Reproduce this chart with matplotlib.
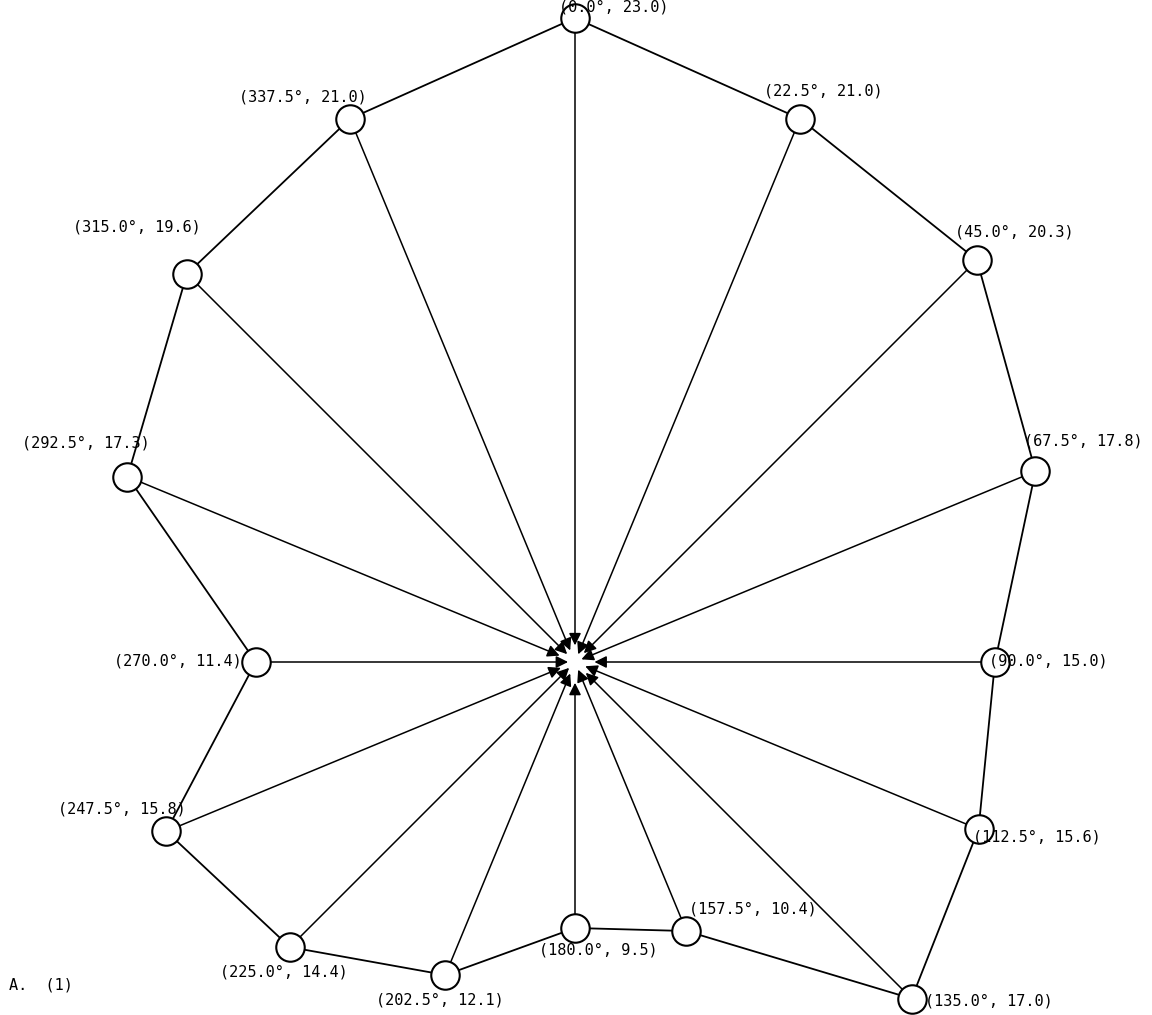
import numpy as np
import matplotlib
matplotlib.use("Agg")
import matplotlib.pyplot as plt

# Compass bearings (degrees, clockwise from north) and magnitudes
bearings = [0.0, 22.5, 45.0, 67.5, 90.0, 112.5, 135.0, 157.5,
            180.0, 202.5, 225.0, 247.5, 270.0, 292.5, 315.0, 337.5]
magnitudes = [23.0, 21.0, 20.3, 17.8, 15.0, 15.6, 17.0, 10.4,
              9.5, 12.1, 14.4, 15.8, 11.4, 17.3, 19.6, 21.0]

# label offsets in points (dx, dy) and horizontal alignment per point
label_offsets = [(28, 8, "center"), (-26, 20, "left"), (-16, 20, "left"),
                 (-8, 22, "left"), (-4, 1, "left"), (-4, -6, "left"),
                 (10, -2, "left"), (2, 16, "left"),
                 (-26, -16, "left"), (-4, -18, "center"), (-4, -18, "center"),
                 (14, 16, "right"), (-10, 1, "right"), (-30, 24, "center"),
                 (10, 34, "right"), (12, 16, "right")]

# arrowhead stand-off from the origin (points)
head_gap = [12, 6, 9, 5, 14, 8, 11, 6, 15, 9, 6, 11, 5, 12, 8, 9]

theta = np.deg2rad(bearings)
r = np.array(magnitudes)
x = r * np.sin(theta)
y = r * np.cos(theta)

fig = plt.figure(figsize=(11.52, 10.15), dpi=100)
ax = fig.add_axes([0, 0, 1, 1])
scale = 28.0  # pixels per unit
cx, cy = 575, 662
ax.set_xlim(-cx / scale, (1152 - cx) / scale)
ax.set_ylim(-(1015 - cy) / scale, cy / scale)
ax.set_aspect("equal")
ax.axis("off")

# outline polygon connecting neighbouring bearings
ax.plot(np.append(x, x[0]), np.append(y, y[0]), color="black", lw=1.3, zorder=2)

# spokes with arrowheads pointing at the origin
for xi, yi, g in zip(x, y, head_gap):
    ax.annotate("", xy=(0, 0), xytext=(xi, yi),
                arrowprops=dict(arrowstyle="-|>", color="black", lw=1.1,
                                mutation_scale=18, shrinkA=0, shrinkB=g),
                zorder=3)

# open circle markers at each point
ax.scatter(x, y, s=420, facecolors="white", edgecolors="black", linewidths=1.5, zorder=4)

for xi, yi, b, m, (dx, dy, ha) in zip(x, y, bearings, magnitudes, label_offsets):
    ax.annotate(f"({b:.1f}°, {m:.1f})", xy=(xi, yi), xytext=(dx, dy),
                textcoords="offset points", ha=ha, va="center",
                fontsize=11, family="DejaVu Sans Mono", zorder=5)

fig.text(0.008, 0.03, "A.  (1)", fontsize=11, family="DejaVu Sans Mono", va="center")

fig.savefig("out.png", dpi=100)
